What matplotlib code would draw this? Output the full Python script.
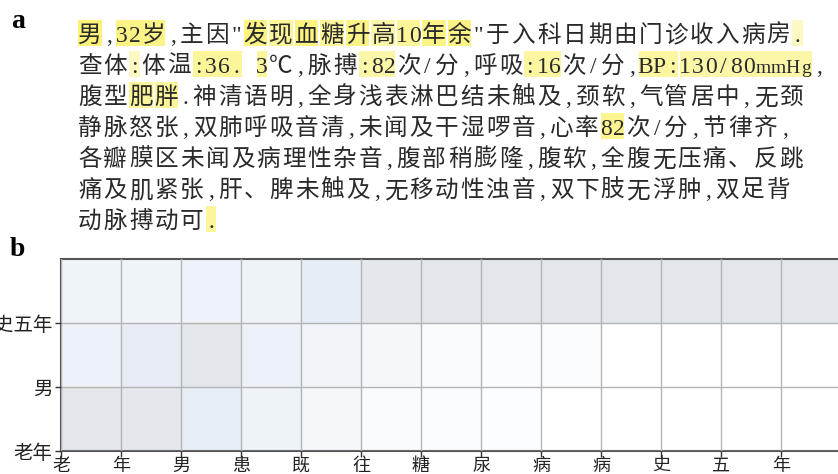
import matplotlib.pyplot as plt
from matplotlib.colors import LinearSegmentedColormap
from matplotlib.patches import Rectangle
import numpy as np

# panel a: case text, one entry per printed line
lines = [
    '男,32岁,主因"发现血糖升高10年余"于入科日期由门诊收入病房.',
    '查体:体温:36. 3℃,脉搏:82次/分,呼吸:16次/分,BP:130/80mmHg,',
    '腹型肥胖.神清语明,全身浅表淋巴结未触及,颈软,气管居中,无颈',
    '静脉怒张,双肺呼吸音清,未闻及干湿啰音,心率82次/分,节律齐,',
    '各瓣膜区未闻及病理性杂音,腹部稍膨隆,腹软,全腹无压痛、反跳',
    '痛及肌紧张,肝、脾未触及,无移动性浊音,双下肢无浮肿,双足背',
    '动脉搏动可.',
]

# highlighted spans: line, first char, last char, weight
hl_line = [0, 0, 0, 0, 0, 0, 0, 0, 0, 0, 0, 0,
           1, 1, 1, 1, 1, 1, 1,
           2, 2, 3, 6]
hl_start = [0, 2, 9, 10, 11, 12, 13, 14, 15, 17, 18, 32,
            2, 5, 10, 15, 24, 31, 34,
            2, 3, 22, 5]
hl_end = [0, 4, 9, 10, 11, 12, 13, 14, 16, 17, 18, 32,
          2, 8, 10, 17, 26, 33, 43,
          2, 3, 23, 5]
hl_weight = [0.8, 0.7, 0.75, 0.6, 0.75, 0.6, 0.7, 0.5, 0.6, 0.7, 0.7, 0.35,
             0.35, 0.6, 0.6, 0.5, 0.55, 0.55, 0.5,
             0.6, 0.6, 0.65, 0.6]

# panel b: attention matrix
x_labels = list("老年男患既往糖尿病病史五年")
y_labels = ["老年", "男", "糖尿病病史五年"]
attn_laonian = [0.95, 0.9, 0.5, 0.3, 0.15, 0.1, 0.08, 0.05, 0.0, 0.0, 0.0, 0.0, 0.0]
attn_nan = [0.35, 0.6, 0.95, 0.4, 0.22, 0.15, 0.1, 0.06, 0.06, 0.0, 0.0, 0.0, 0.0]
attn_tnb = [0.25, 0.25, 0.28, 0.3, 0.55, 0.85, 0.95, 0.95, 0.95, 0.95, 0.95, 0.95, 0.95]

FONTS = ['Liberation Serif', 'Noto Sans CJK SC', 'DejaVu Sans']
W, H = 838, 474

fig = plt.figure(figsize=(W / 100, H / 100), dpi=100)

# text panel in pixel coordinates
ax_t = fig.add_axes([0, 0, 1, 1])
ax_t.set_xlim(0, W)
ax_t.set_ylim(H, 0)
ax_t.axis('off')

x0, em, y0, dy = 77, 25.5, 33, 31
small = 'mHg'   # the unit is printed narrower in the source


def adv(ch):
    if ch == 'm':
        return 0.6
    if ch.isupper():
        return 0.55
    if ord(ch) < 128:
        return 0.5
    return 1.0


char_x = []
for i, line in enumerate(lines):
    xs = [x0]
    for ch in line:
        xs.append(xs[-1] + adv(ch) * em)
    char_x.append(xs)
    y = y0 + i * dy
    for j, ch in enumerate(line):
        if ch == ' ':
            continue
        ax_t.text((xs[j] + xs[j + 1]) / 2, y + 9, ch, ha='center', va='baseline',
                  fontsize=14 if ch in small else 17, family=FONTS, color='#2a2a2a')

for li, s, e, w in zip(hl_line, hl_start, hl_end, hl_weight):
    xs = char_x[li]
    y = y0 + li * dy
    ax_t.add_patch(Rectangle((xs[s] + 1, y - 13), xs[e + 1] - xs[s] - 2, 26,
                             facecolor='#fbef55', alpha=w, edgecolor='none', zorder=0))

ax_t.text(18, 21, 'a', fontsize=20, family='Liberation Serif', weight='bold',
          ha='center', va='center')
ax_t.text(17, 250, 'b', fontsize=20, family='Liberation Serif', weight='bold',
          ha='center', va='center')

# heatmap panel
ax = fig.add_axes([61 / W, 23 / H, 780 / W, 192 / H])
cmap = LinearSegmentedColormap.from_list(
    'attn', [(0, '#ffffff'), (0.25, '#eff4f9'), (0.55, '#e7edf5'),
             (0.8, '#e5e9ef'), (1.0, '#e3e5e9')])
data = np.array([attn_laonian, attn_nan, attn_tnb])
ax.pcolormesh(np.arange(len(x_labels) + 1), np.arange(len(y_labels) + 1), data,
              cmap=cmap, vmin=0, vmax=1)
ax.set_xlim(0, len(x_labels))
ax.set_ylim(0, len(y_labels))
ax.set_xticks(np.arange(len(x_labels)))
ax.set_xticklabels(x_labels, family=FONTS[1:], fontsize=13)
ax.set_yticks(np.arange(len(y_labels)))
ax.set_yticklabels(y_labels, family=FONTS[1:], fontsize=14)
ax.tick_params(length=4, width=1, color='#333333', labelcolor='#222222')
ax.tick_params(axis='x', pad=0)
ax.tick_params(axis='y', pad=2)
ax.grid(True, color='#b4b4b4', linewidth=1)
ax.set_axisbelow(False)
for sp in ax.spines.values():
    sp.set_color('#555555')
    sp.set_linewidth(1.5)

fig.savefig('out.png', dpi=100)
